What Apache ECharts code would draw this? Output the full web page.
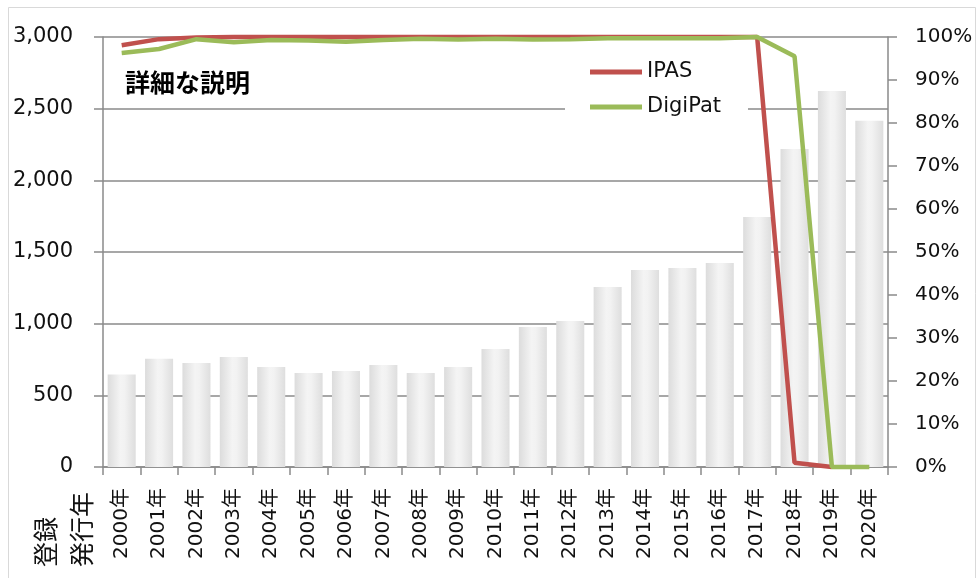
<!DOCTYPE html>
<html>
<head>
<meta charset="utf-8">
<script src="https://cdn.jsdelivr.net/npm/echarts@6/dist/echarts.min.js"></script>
<style>
html,body{margin:0;padding:0;background:#fff;}
#chart{width:977px;height:578px;}
</style>
</head>
<body>
<div id="chart"></div>
<script>
const categories = ['2000年','2001年','2002年','2003年','2004年','2005年','2006年','2007年','2008年','2009年','2010年','2011年','2012年','2013年','2014年','2015年','2016年','2017年','2018年','2019年','2020年'];
const registrations = [645, 755, 726, 768, 698, 656, 670, 712, 656, 698, 823, 977, 1019, 1256, 1374, 1389, 1424, 1745, 2219, 2624, 2415];
const ipasShare = [0.981, 0.995, 0.999, 1.0, 1.0, 1.0, 1.0, 1.0, 1.0, 1.0, 1.0, 1.0, 1.0, 1.0, 1.0, 1.0, 1.0, 1.0, 0.01, 0.0, null];
const digipatShare = [0.963, 0.972, 0.995, 0.988, 0.993, 0.992, 0.989, 0.993, 0.996, 0.994, 0.996, 0.994, 0.995, 0.997, 0.997, 0.997, 0.997, 1.0, 0.955, 0.0, 0.0];
const leftTicks = {min: 0, max: 3000, interval: 500};
const rightTicks = {min: 0, max: 1, interval: 0.1};
const titleText = '詳細な説明';
const axisNameText = '登録\n発行年';

const chart = echarts.init(document.getElementById('chart'), null, {renderer: 'canvas'});
const font = 'DejaVu Sans, "Noto Sans CJK JP", sans-serif';
const axisColor = '#8a8a8a';
chart.setOption({
  animation: false,
  backgroundColor: '#fff',
  grid: {left: 103, right: 89, top: 37, bottom: 111, containLabel: false},
  legend: {
    orient: 'vertical', left: 565, top: 55,
    backgroundColor: '#fff',
    padding: [5, 27, 6, 25],
    itemWidth: 52, itemHeight: 5, itemGap: 11,
    icon: 'rect',
    data: ['IPAS', 'DigiPat'],
    textStyle: {fontFamily: font, fontSize: 21, color: '#111', lineHeight: 24}
  },
  graphic: [
    {type: 'rect', shape: {x: 8.5, y: 7.5, width: 967, height: 600}, style: {fill: 'none', stroke: '#d9d9d9', lineWidth: 1}, silent: true},
    {type: 'text', left: 125, top: 70, style: {text: titleText, font: 'bold 25px "Noto Sans CJK JP", sans-serif', fill: '#000'}},
    {type: 'text', x: 27.5, y: 567, rotation: Math.PI / 2,
     style: {text: axisNameText, font: '25px "Noto Sans CJK JP", sans-serif', fill: '#111', align: 'left', verticalAlign: 'top', lineHeight: 36}}
  ],
  xAxis: {
    type: 'category', data: categories, boundaryGap: true,
    axisLine: {lineStyle: {color: axisColor, width: 1.5}},
    axisTick: {show: true, length: 8, alignWithLabel: false, lineStyle: {color: axisColor, width: 1.5}},
    axisLabel: {rotate: 90, margin: 21, interval: 0, fontFamily: font, fontSize: 20, color: '#111'},
    splitLine: {show: false}
  },
  yAxis: [
    {
      type: 'value', min: leftTicks.min, max: leftTicks.max, interval: leftTicks.interval,
      axisLine: {show: true, lineStyle: {color: axisColor, width: 1.5}},
      axisTick: {show: true, length: 9, lineStyle: {color: axisColor, width: 1.5}},
      axisLabel: {fontFamily: font, fontSize: 21, color: '#111', margin: 30,
        formatter: v => v.toLocaleString('en-US')},
      splitLine: {show: true, lineStyle: {color: axisColor, width: 1.5}}
    },
    {
      type: 'value', min: rightTicks.min, max: rightTicks.max, interval: rightTicks.interval,
      position: 'right',
      axisLine: {show: true, lineStyle: {color: axisColor, width: 1.5}},
      axisTick: {show: true, length: 9, lineStyle: {color: axisColor, width: 1.5}},
      axisLabel: {fontFamily: font, fontSize: 20, color: '#111', margin: 27,
        formatter: v => Math.round(v * 100) + '%'},
      splitLine: {show: false}
    }
  ],
  series: [
    {
      name: '登録', type: 'bar', yAxisIndex: 0, data: registrations,
      barCategoryGap: '25%', z: 1,
      itemStyle: {color: new echarts.graphic.LinearGradient(0, 0, 1, 0, [
        {offset: 0, color: '#dcdcdc'}, {offset: 0.45, color: '#f4f4f4'}, {offset: 0.6, color: '#f2f2f2'}, {offset: 1, color: '#dedede'}
      ])}
    },
    {
      name: 'IPAS', type: 'line', yAxisIndex: 1, data: ipasShare,
      showSymbol: false, symbol: 'none', clip: false, z: 3,
      lineStyle: {color: '#C0504D', width: 4.5},
      itemStyle: {color: '#C0504D'}
    },
    {
      name: 'DigiPat', type: 'line', yAxisIndex: 1, data: digipatShare,
      showSymbol: false, symbol: 'none', clip: false, z: 4,
      lineStyle: {color: '#9BBB59', width: 4.5},
      itemStyle: {color: '#9BBB59'}
    }
  ]
});
</script>
</body>
</html>
